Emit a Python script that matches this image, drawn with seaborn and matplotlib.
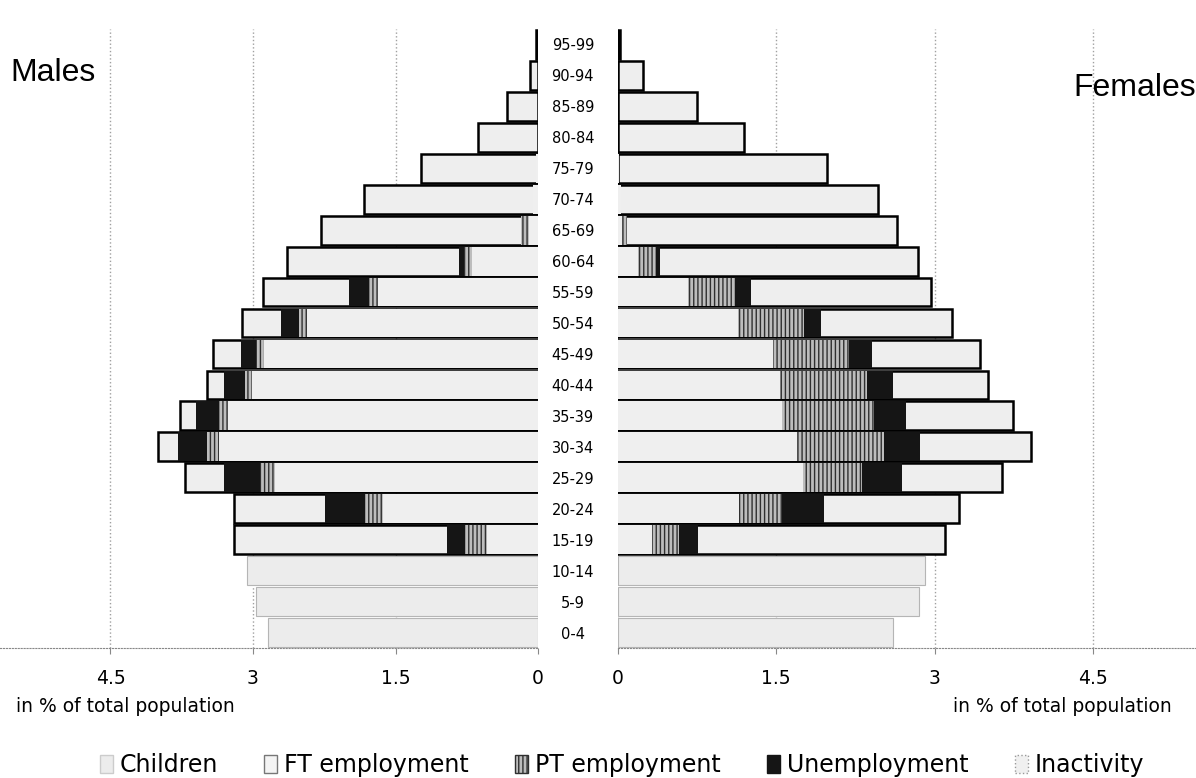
import numpy as np
import pandas as pd
import seaborn as sns
import matplotlib.pyplot as plt
from matplotlib.patches import Patch

# age groups, top to bottom
ages = ['95-99', '90-94', '85-89', '80-84', '75-79', '70-74', '65-69', '60-64',
        '55-59', '50-54', '45-49', '40-44', '35-39', '30-34', '25-29', '20-24',
        '15-19', '10-14', '5-9', '0-4']

# males, in % of total population
m_children = [0, 0, 0, 0, 0, 0, 0, 0, 0, 0, 0, 0, 0, 0, 0, 0, 0, 3.06, 2.97, 2.84]
m_ft = [0, 0, 0, 0, 0.02, 0.05, 0.10, 0.69, 1.68, 2.43, 2.88, 3.01, 3.26, 3.36, 2.77, 1.63, 0.54, 0, 0, 0]
m_pt = [0, 0, 0, 0, 0, 0, 0.08, 0.09, 0.10, 0.09, 0.09, 0.07, 0.10, 0.12, 0.16, 0.19, 0.23, 0, 0, 0]
m_unemp = [0, 0, 0, 0, 0, 0, 0, 0.05, 0.21, 0.19, 0.16, 0.23, 0.24, 0.31, 0.37, 0.42, 0.19, 0, 0, 0]
m_inact = [0.02, 0.08, 0.33, 0.63, 1.21, 1.78, 2.10, 1.81, 0.90, 0.41, 0.29, 0.17, 0.17, 0.21, 0.42, 0.96, 2.24, 0, 0, 0]

# females, in % of total population
f_children = [0, 0, 0, 0, 0, 0, 0, 0, 0, 0, 0, 0, 0, 0, 0, 0, 0, 2.91, 2.85, 2.61]
f_ft = [0, 0, 0, 0, 0.01, 0.03, 0.04, 0.19, 0.66, 1.14, 1.47, 1.54, 1.55, 1.70, 1.75, 1.15, 0.32, 0, 0, 0]
f_pt = [0, 0, 0, 0, 0, 0, 0.05, 0.17, 0.45, 0.62, 0.72, 0.82, 0.88, 0.82, 0.56, 0.40, 0.26, 0, 0, 0]
f_unemp = [0, 0, 0, 0, 0, 0, 0, 0.04, 0.15, 0.16, 0.22, 0.25, 0.30, 0.34, 0.38, 0.40, 0.18, 0, 0, 0]
f_inact = [0.02, 0.24, 0.75, 1.19, 1.97, 2.43, 2.55, 2.44, 1.71, 1.25, 1.02, 0.90, 1.01, 1.05, 0.95, 1.28, 2.34, 0, 0, 0]

ticks = [0, 1.5, 3, 4.5]
tick_labels = ['0', '1.5', '3', '4.5']

sns.set_style('white')
plt.rcParams['font.family'] = ['DejaVu Sans']
plt.rcParams['hatch.linewidth'] = 1.0
plt.rcParams['text.color'] = 'black'
plt.rcParams['xtick.labelcolor'] = 'black'
plt.rcParams['ytick.labelcolor'] = 'black'

W, H = 1196, 778
fig = plt.figure(figsize=(W / 100, H / 100), dpi=100)

bot = 1 - 648 / H
top = 1 - 29 / H
ax_l = fig.add_axes([0, bot, 538 / W, top - bot])
ax_r = fig.add_axes([618 / W, bot, (W - 618) / W, top - bot])


def make_frame(children, ft, pt, unemp, inact):
    df = pd.DataFrame({'age': ages, 'children': children, 'ft': ft, 'pt': pt,
                       'unemp': unemp, 'inact': inact})
    df['c1'] = df.ft
    df['c2'] = df.ft + df.pt
    df['c3'] = df.c2 + df.unemp
    df['c4'] = df.c3 + df.inact
    return df


def draw_side(ax, df):
    kw = dict(y='age', order=ages, orient='h', errorbar=None, saturation=1,
              width=0.93, ax=ax)
    # children
    sns.barplot(data=df[df.children > 0], x='children', color='#ececec',
                edgecolor='#b5b5b5', linewidth=0.8, **kw)
    # inactivity (outer box, drawn as total)
    sns.barplot(data=df[df.c4 > 0], x='c4', color='#eeeeee',
                edgecolor='black', linewidth=1.8, **kw)
    # unemployment
    sns.barplot(data=df[df.c3 > 0], x='c3', color='#151515',
                linewidth=0, **kw)
    # part-time employment
    sns.barplot(data=df[df.c2 > 0], x='c2', color='#bdbdbd',
                edgecolor='#303030', hatch='||||', linewidth=0, **kw)
    # full-time employment
    sns.barplot(data=df[df.c1 > 0], x='c1', color='#efefef',
                linewidth=0, **kw)


draw_side(ax_l, make_frame(m_children, m_ft, m_pt, m_unemp, m_inact))
draw_side(ax_r, make_frame(f_children, f_ft, f_pt, f_unemp, f_inact))

ax_l.set_xlim(538 / 95, 0)
ax_r.set_xlim(0, (W - 618) / 105.5)

for ax in (ax_l, ax_r):
    ax.set_ylim(len(ages) - 0.5, -0.5)
    ax.set_xticks(ticks)
    ax.set_xticklabels(tick_labels, fontsize=13.5)
    ax.set_xlabel('')
    ax.set_ylabel('')
    ax.grid(axis='x', linestyle=':', color='#a0a0a0', linewidth=1)
    ax.set_axisbelow(True)
    for s in ('top', 'right', 'left'):
        ax.spines[s].set_visible(False)
    ax.spines['bottom'].set_linestyle(':')
    ax.spines['bottom'].set_color('#888888')
    ax.tick_params(axis='x', bottom=True, length=4, color='#888888', pad=11)

ax_l.set_yticks([])
ax_r.set_yticks(range(len(ages)))
ax_r.set_yticklabels(ages, fontsize=10.5, ha='center')
ax_r.tick_params(axis='y', left=False, pad=29)

fig.text(125 / W, 1 - 707 / H, 'in % of total population', ha='center', va='center', fontsize=13.5)
fig.text(1062 / W, 1 - 707 / H, 'in % of total population', ha='center', va='center', fontsize=13.5)
fig.text(10 / W, 1 - 73 / H, 'Males', ha='left', va='center', fontsize=23,
         family=['Liberation Sans', 'DejaVu Sans'])
fig.text(1196 / W, 1 - 88 / H, 'Females', ha='right', va='center', fontsize=23,
         family=['Liberation Sans', 'DejaVu Sans'])

handles = [
    Patch(facecolor='#ececec', edgecolor='#cccccc', label='Children'),
    Patch(facecolor='#f4f4f4', edgecolor='#777777', label='FT employment'),
    Patch(facecolor='#bdbdbd', edgecolor='#303030', hatch='||||', label='PT employment'),
    Patch(facecolor='#151515', edgecolor='#151515', label='Unemployment'),
    Patch(facecolor='#f0f0f0', edgecolor='#999999', linestyle=':', label='Inactivity'),
]
fig.legend(handles=handles, loc='center', bbox_to_anchor=(0.52, 1 - 765 / H), ncol=5,
           frameon=False, fontsize=17, handlelength=0.55, handleheight=0.8,
           handletextpad=0.3, columnspacing=1.95)

fig.savefig('out.png', dpi=100)
